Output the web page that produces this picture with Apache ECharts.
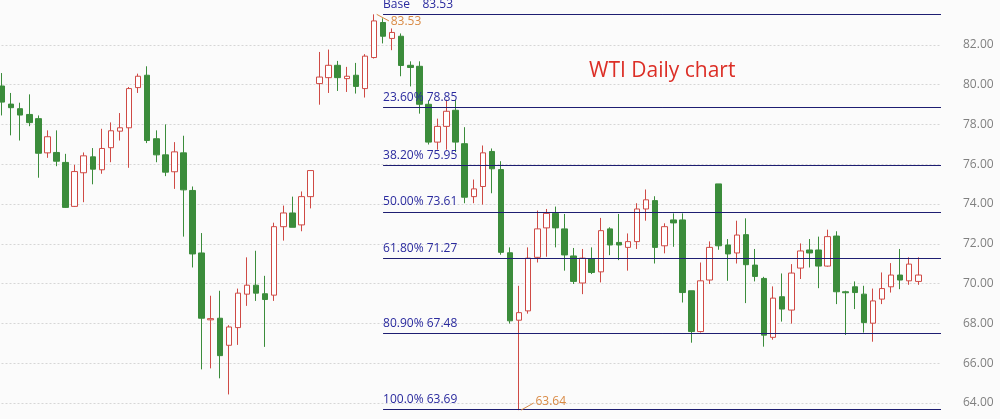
<!DOCTYPE html>
<html><head><meta charset="utf-8">
<script src="https://cdn.jsdelivr.net/npm/echarts@6/dist/echarts.min.js"></script>
<style>html,body{margin:0;padding:0;background:#fbfbfb}#c{width:1000px;height:419px}</style>
</head><body><div id="c"></div>
<script>
// ---- data ----
const opens = [79.93,79.02,78.79,78.50,78.29,76.57,76.59,76.09,73.88,75.57,76.37,75.72,76.83,77.66,77.83,79.85,80.47,77.28,76.47,75.62,
76.57,74.68,71.54,68.18,68.26,66.90,67.79,69.47,69.92,69.49,69.42,72.86,73.55,72.95,74.37,80.05,80.35,80.97,80.30,80.47,
79.80,81.36,83.12,82.32,82.43,80.97,80.92,79.01,77.11,77.90,78.71,77.03,74.37,74.88,76.64,75.73,71.55,68.16,68.63,71.32,
72.80,73.53,72.75,71.39,70.03,71.26,70.59,72.75,72.07,71.82,72.11,73.75,74.17,71.90,73.20,73.20,69.64,67.59,70.18,75.01,
71.94,71.54,72.46,70.93,70.26,67.30,69.34,68.67,70.78,71.69,71.69,70.88,72.39,69.59,69.84,69.47,68.01,69.22,69.84,70.43,
70.14,70.11];
const closes = [79.12,78.84,78.47,78.09,76.55,77.38,76.15,73.83,75.63,76.42,75.75,76.79,77.68,77.83,79.80,80.42,77.19,76.47,75.60,76.62,
74.71,71.49,68.26,68.24,66.38,67.82,69.52,69.92,69.52,69.20,72.86,73.55,72.83,74.37,75.68,80.38,80.97,80.35,80.42,79.91,
81.43,83.20,82.43,82.62,80.96,80.86,79.01,77.11,77.90,78.66,77.11,74.34,74.76,76.57,75.77,71.57,68.13,68.54,71.28,72.75,
73.53,72.80,71.44,70.11,71.28,70.56,72.66,71.94,71.94,72.11,73.75,74.21,71.82,72.86,73.05,69.55,67.59,70.14,71.82,71.90,
71.49,72.44,70.95,70.36,67.41,69.27,68.72,70.53,71.64,71.54,70.88,72.36,69.59,69.54,69.55,68.04,69.13,69.75,70.43,70.18,
70.98,70.43];
const lows = [78.45,77.45,77.19,77.91,75.32,76.32,75.90,73.80,73.85,74.09,74.99,75.52,76.10,77.19,75.82,79.58,77.06,76.10,75.40,74.76,
72.36,70.81,65.69,65.74,65.24,64.43,66.92,68.88,69.13,66.82,69.13,72.16,72.83,72.63,73.78,78.99,79.58,79.68,79.63,79.55,
79.35,81.31,82.07,81.73,80.42,79.91,78.54,76.99,76.73,76.73,76.61,74.04,74.04,73.97,74.54,71.45,67.99,63.64,68.49,71.06,
71.35,71.82,70.65,69.98,69.47,70.48,70.06,71.43,71.18,70.65,71.74,73.16,71.01,71.52,71.85,69.05,67.03,67.54,69.98,71.70,
70.14,71.01,69.02,70.11,66.83,67.18,68.09,67.99,70.23,70.81,69.77,70.85,68.97,67.42,68.72,67.54,67.08,68.97,69.55,69.72,
69.94,69.94];
const highs = [80.58,79.58,79.09,79.51,78.45,77.70,77.70,76.52,75.97,76.59,76.81,77.78,78.10,78.57,79.88,80.55,80.92,77.70,78.00,77.11,
77.43,74.88,72.54,69.39,69.64,67.91,69.75,71.32,71.65,70.39,73.06,73.92,74.37,74.63,75.68,81.64,81.76,81.19,80.89,81.09,
81.53,83.53,83.33,82.82,82.57,81.17,81.17,79.21,78.29,79.24,79.24,77.86,75.23,76.94,76.79,76.15,71.82,69.89,71.82,73.67,
73.75,73.87,73.50,71.79,71.74,71.82,73.30,72.83,73.50,72.52,74.04,74.73,74.39,73.03,73.53,73.53,69.64,71.06,72.12,75.01,
72.24,73.16,73.28,71.74,70.34,69.86,70.51,70.98,72.02,72.24,72.36,72.71,72.63,69.64,70.11,69.89,69.75,70.56,71.03,71.74,
71.32,71.32];
const fibNames  = ['Base   ', '23.60%', '38.20%', '50.00%', '61.80%', '80.90%', '100.0%'];
const fibValues = [83.53, 78.85, 75.95, 73.61, 71.27, 67.48, 63.69];
const yTicks = [64, 66, 68, 70, 72, 74, 76, 78, 80, 82];
const titleText = 'WTI Daily chart';
const peakIndex = 41, troughIndex = 57;   // candles marked with their high / low
const slots = 104;                       // candle slots across the plot (last two empty)

// ---- build ----
const categories = [];
for (let i = 0; i < slots; i++) categories.push(String(i + 1));
const candleData = opens.map((o, i) => [o, closes[i], lows[i], highs[i]]);
while (candleData.length < slots) candleData.push('-');

const yMin = 62, yMax = 86, yStep = 2;
const splitColors = [];
for (let v = yMin; v <= yMax; v += yStep) splitColors.push(yTicks.includes(v) ? '#d6d6d6' : 'rgba(0,0,0,0)');

const fibStart = 42.5;
const fibLines = fibValues.map((v, i) => [
  {coord: [fibStart, v], label: {formatter: fibNames[i] + ' ' + v.toFixed(2)}},
  {coord: [slots, v]}
]);

const orange = '#d98a45';
const annLines = [
  [{coord: [peakIndex + 0.8, highs[peakIndex]]},
   {coord: [peakIndex + 2.15, highs[peakIndex] - 0.33],
    label: {formatter: highs[peakIndex].toFixed(2), padding: [4, 0, 0, 0]}}],
  [{coord: [troughIndex + 0.7, lows[troughIndex]]},
   {coord: [troughIndex + 2.1, lows[troughIndex] + 0.36],
    label: {formatter: lows[troughIndex].toFixed(2), padding: [0, 0, 8, 0]}}]
];

const chart = echarts.init(document.getElementById('c'), null, {renderer: 'canvas'});
chart.setOption({
  animation: false,
  backgroundColor: '#fbfbfb',
  title: {
    text: titleText, left: 584, top: 56,
    textStyle: {color: '#dc2e26', fontSize: 21, fontWeight: 'normal', fontFamily: 'Open Sans'}
  },
  grid: {left: -2.5, right: 59, top: -34.8, bottom: -23.8, containLabel: false, outerBoundsMode: 'none'},
  xAxis: [
    {type: 'category', data: categories, boundaryGap: true, show: false},
    {type: 'value', min: 0, max: slots, show: false}
  ],
  yAxis: {
    type: 'value', position: 'right', min: yMin, max: yMax, interval: yStep,
    axisLine: {show: true, lineStyle: {color: '#dcdcdc'}},
    axisTick: {show: false},
    axisLabel: {margin: 22, color: '#808080', fontSize: 12, fontFamily: 'Open Sans', align: 'left',
      padding: [5, 0, 0, 0],
      formatter: v => yTicks.includes(v) ? v.toFixed(2) : ''},
    splitLine: {show: true, lineStyle: {type: [2, 2], color: splitColors, width: 1}}
  },
  series: [
    {
      type: 'candlestick', xAxisIndex: 0, data: candleData, barWidth: 6,
      itemStyle: {color: '#ffffff', color0: '#3b8c3b', borderColor: '#cf4a45', borderColor0: '#3b8c3b', borderWidth: 1},
      emphasis: {disabled: true}
    },
    {
      type: 'line', xAxisIndex: 1, data: [], silent: true,
      markLine: {
        silent: true, animation: false, symbol: ['none', 'none'],
        lineStyle: {color: '#1e1e72', width: 1, type: 'solid'},
        label: {show: true, position: 'insideStartTop', color: '#2a2a9e', fontSize: 12, fontFamily: 'Open Sans', distance: [0, 4]},
        emphasis: {disabled: true},
        data: fibLines
      }
    },
    {
      type: 'line', xAxisIndex: 1, data: [], silent: true,
      markLine: {
        silent: true, animation: false, symbol: ['arrow', 'none'], symbolSize: [6, 0],
        lineStyle: {color: orange, width: 1, type: 'solid', curveness: 0.2},
        label: {show: true, position: 'end', color: orange, fontSize: 12, fontFamily: 'Open Sans', distance: 2},
        emphasis: {disabled: true},
        data: annLines
      }
    }
  ]
});
</script>
</body></html>
